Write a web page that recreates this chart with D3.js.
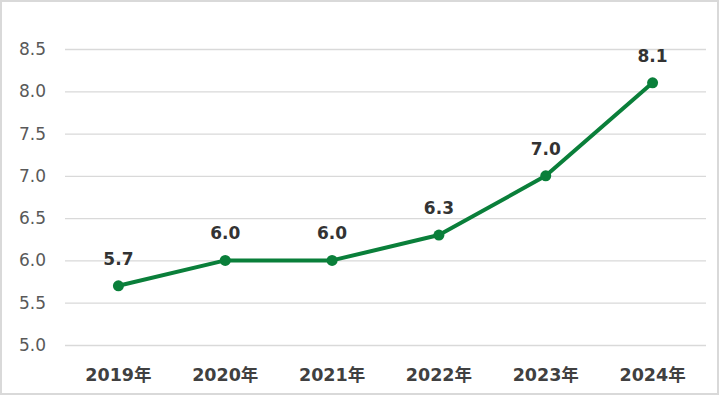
<!DOCTYPE html>
<html><head><meta charset="utf-8">
<script src="https://cdn.jsdelivr.net/npm/d3@7"></script>
<style>
html,body{margin:0;padding:0;background:#fff;}
svg{display:block;}
</style></head>
<body>
<svg id="chart" width="720" height="395"></svg>
<script>
const categories = ["2019年","2020年","2021年","2022年","2023年","2024年"];
const values = [5.7, 6.0, 6.0, 6.3, 7.0, 8.1];
const yTicks = [5.0, 5.5, 6.0, 6.5, 7.0, 7.5, 8.0, 8.5];

const svg = d3.select("#chart");
const W = 720, H = 395;
const m = {left: 65, right: 14, top: 49, bottom: 50};

svg.append("rect").attr("x",1).attr("y",1).attr("width",W-3).attr("height",H-2)
  .attr("fill","#fff").attr("stroke","#d9d9d9").attr("stroke-width",2);

const x = d3.scaleBand().domain(categories).range([m.left, W - m.right]);
const y = d3.scaleLinear().domain([5.0, 8.5]).range([H - m.bottom, m.top]);

const font = "'DejaVu Sans', Verdana, 'Noto Sans CJK JP', sans-serif";

const yAxis = svg.append("g").attr("transform", `translate(${m.left},0)`)
  .call(d3.axisLeft(y).tickValues(yTicks).tickFormat(d3.format(".1f"))
    .tickSize(-(W - m.left - m.right)).tickPadding(19));
yAxis.select(".domain").remove();
yAxis.selectAll(".tick line").attr("stroke","#d9d9d9").attr("stroke-width",1.3);
yAxis.selectAll(".tick text").attr("fill","#595959").style("font-family",font).style("font-size","17px");

const xAxis = svg.append("g").attr("transform", `translate(0,${H - m.bottom})`)
  .call(d3.axisBottom(x).tickSize(0).tickPadding(24));
xAxis.select(".domain").remove();
xAxis.selectAll(".tick text").attr("fill","#404040").style("font-family",font)
  .style("font-size","17.5px").style("font-weight","bold");

const cx = d => x(d) + x.bandwidth()/2;
const line = d3.line().x((d,i) => cx(categories[i])).y(d => y(d));
svg.append("path").datum(values).attr("d", line)
  .attr("fill","none").attr("stroke","#0a7f3a").attr("stroke-width",4).attr("stroke-linejoin","round");

svg.selectAll("circle.pt").data(values).join("circle").attr("class","pt")
  .attr("cx",(d,i)=>cx(categories[i])).attr("cy",d=>y(d)).attr("r",5.5).attr("fill","#0a7f3a");

svg.selectAll("text.lbl").data(values).join("text").attr("class","lbl")
  .attr("x",(d,i)=>cx(categories[i])).attr("y",d=>y(d)-21)
  .attr("text-anchor","middle").attr("fill","#333")
  .style("font-family",font).style("font-size","17px").style("font-weight","bold")
  .text(d=>d3.format(".1f")(d));
</script>
</body></html>
